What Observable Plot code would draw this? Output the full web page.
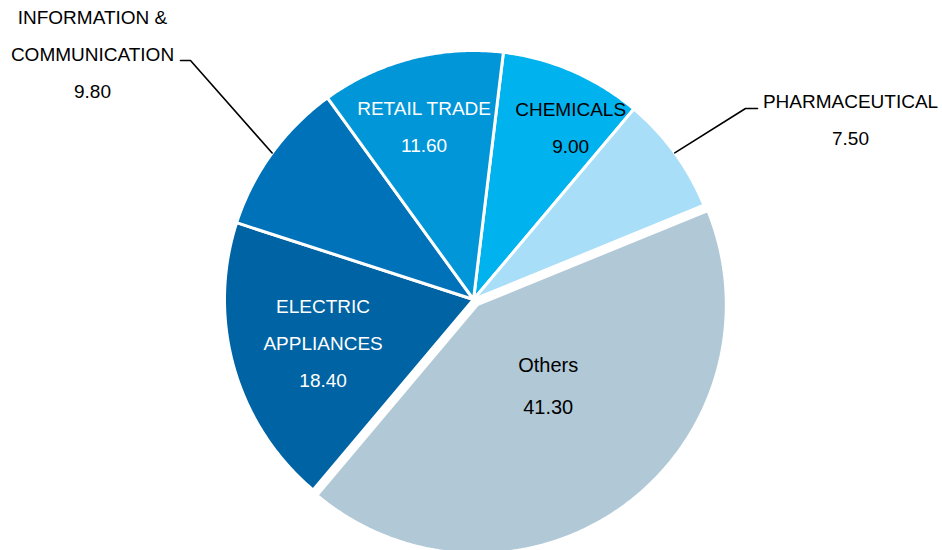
<!DOCTYPE html>
<html><head><meta charset="utf-8">
<script src="https://cdn.jsdelivr.net/npm/d3@7"></script>
<script src="https://cdn.jsdelivr.net/npm/@observablehq/plot@0.6"></script>
<style>body{margin:0;background:#fff;font-family:"Liberation Sans",Arial,sans-serif}</style>
</head><body><div id="chart"></div>
<script>
// ---- data ----
const categories = ["CHEMICALS", "PHARMACEUTICAL", "Others", "ELECTRIC\nAPPLIANCES", "INFORMATION &\nCOMMUNICATION", "RETAIL TRADE"];
const values = [9.00, 7.50, 41.30, 18.40, 9.80, 11.60];
const colors = ["#00B2EE", "#A8DEF8", "#B1C9D7", "#0063A3", "#0072BA", "#0096D8"];

// ---- layout (not data) ----
const W = 942, H = 550, cx = 473, cy = 299, R = 249;
const startAngle = 6.9;          // degrees clockwise from north
const explode = {"Others": 0.026};
const labelColor = {"CHEMICALS": "black", "PHARMACEUTICAL": "black", "Others": "black",
  "ELECTRIC\nAPPLIANCES": "white", "INFORMATION &\nCOMMUNICATION": "black", "RETAIL TRADE": "white"};
// inside labels: polar position (radius fraction, angle deg)
const insidePos = {"CHEMICALS": [0.79, 29.6], "RETAIL TRADE": [0.72, 344], "ELECTRIC\nAPPLIANCES": [0.63, 253.5], "Others": [0.46, 139.3]};
// outside labels: label centre and leader elbow/end in pixels converted to data units
const outsidePx = {
  "INFORMATION &\nCOMMUNICATION": {label: [92, 55], elbow: [190, 60], end: [180, 60]},
  "PHARMACEUTICAL": {label: [850, 120], elbow: [745, 108], end: [757, 108]}
};
const px = ([u, v]) => [(u - cx) / R, (cy - v) / R];
const rad = d => d * Math.PI / 180;

const total = d3.sum(values);
let cum = 0;
const slices = categories.map((name, i) => {
  const a0 = startAngle + cum / total * 360;
  cum += values[i];
  const a1 = startAngle + cum / total * 360;
  return {name, value: values[i], a0, a1, mid: (a0 + a1) / 2};
});

// polygon outlines of each slice (geometry derived from the values)
const pts = [];
for (const s of slices) {
  const d = explode[s.name] || 0;
  const ox = d * Math.sin(rad(s.mid)), oy = d * Math.cos(rad(s.mid));
  pts.push({name: s.name, x: ox, y: oy});
  const n = Math.max(2, Math.ceil((s.a1 - s.a0) / 0.5));
  for (let k = 0; k <= n; k++) {
    const t = rad(s.a0 + (s.a1 - s.a0) * k / n);
    pts.push({name: s.name, x: ox + Math.sin(t), y: oy + Math.cos(t)});
  }
}

// labels
const labels = slices.map(s => {
  const text = s.name + "\n" + s.value.toFixed(2);
  if (insidePos[s.name]) {
    const [r, a] = insidePos[s.name];
    return {name: s.name, text, x: r * Math.sin(rad(a)), y: r * Math.cos(rad(a)), fill: labelColor[s.name]};
  }
  const [x, y] = px(outsidePx[s.name].label);
  return {name: s.name, text, x, y, fill: labelColor[s.name]};
});

// leader lines
const leaders = [];
for (const s of slices) {
  const o = outsidePx[s.name];
  if (!o) continue;
  leaders.push({name: s.name, x: Math.sin(rad(s.mid)), y: Math.cos(rad(s.mid))});
  const e = px(o.elbow), f = px(o.end);
  leaders.push({name: s.name, x: e[0], y: e[1]});
  leaders.push({name: s.name, x: f[0], y: f[1]});
}

const font = "Liberation Sans, Arial, sans-serif";
const chart = Plot.plot({
  width: W, height: H, margin: 0,
  style: {fontFamily: font, background: "white"},
  x: {domain: [-cx / R, (W - cx) / R], axis: null},
  y: {domain: [-(H - cy) / R, cy / R], axis: null},
  color: {domain: categories, range: colors},
  marks: [
    Plot.line(pts, {x: "x", y: "y", z: "name", fill: "name", stroke: "white", strokeWidth: 3,
      curve: "linear-closed", strokeLinejoin: "round"}),
    Plot.line(leaders, {x: "x", y: "y", z: "name", stroke: "black", strokeWidth: 1.6}),
    Plot.text(labels.filter(d => d.name !== "Others" && d.fill === "white"), {x: "x", y: "y", text: "text",
      fill: "white", fontSize: 19, lineHeight: 1.95, dy: -6, fontFamily: font}),
    Plot.text(labels.filter(d => d.name !== "Others" && d.fill === "black"), {x: "x", y: "y", text: "text",
      fill: "black", fontSize: 19, lineHeight: 1.95, dy: -6, fontFamily: font}),
    Plot.text(labels.filter(d => d.name === "Others"), {x: "x", y: "y", text: "text",
      fill: "black", fontSize: 20, lineHeight: 2.1, dy: -7, fontFamily: font})
  ]
});
document.getElementById("chart").appendChild(chart);
</script>
</body></html>
